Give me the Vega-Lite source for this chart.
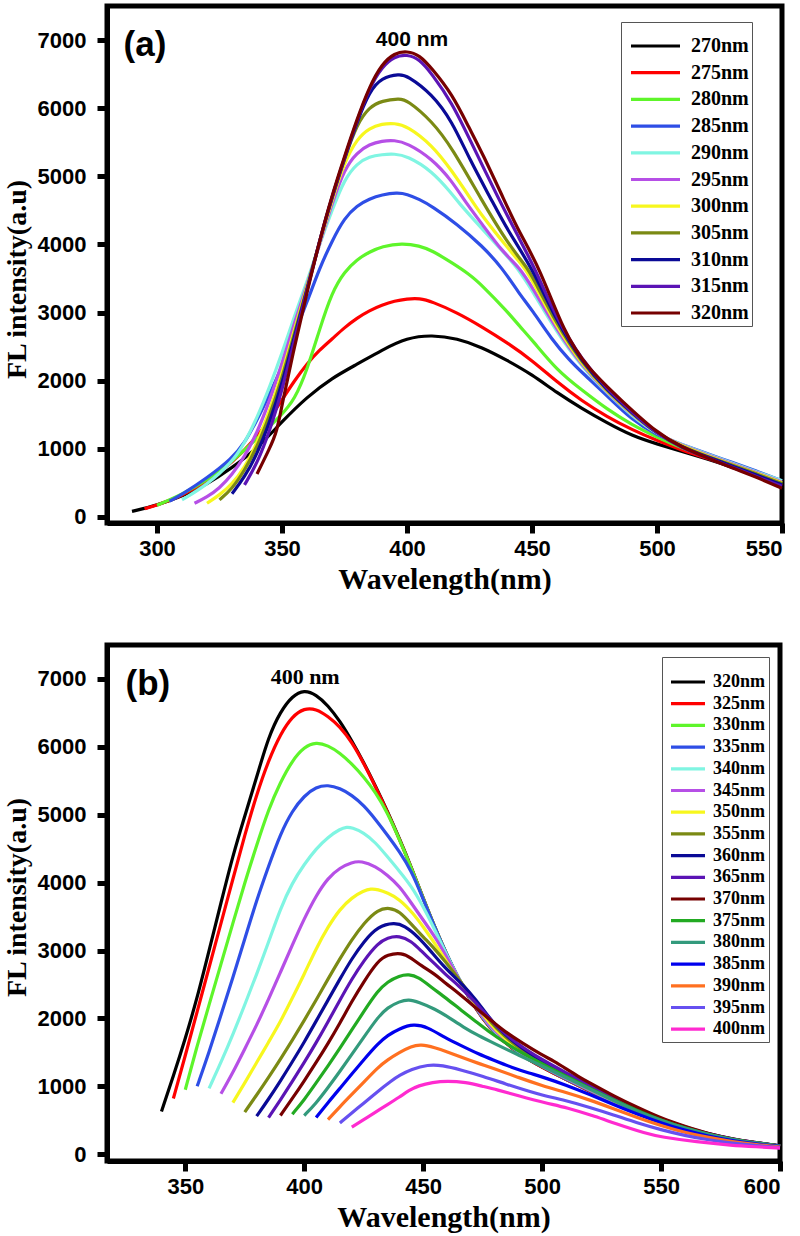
{
"$schema": "https://vega.github.io/schema/vega-lite/v6.json",
"background": "white",
"padding": {"left": 0, "top": 3, "right": 5, "bottom": 0},
"spacing": 45,
"config": {
 "view": {"stroke": "black", "strokeWidth": 5},
 "axis": {"grid": false, "domainColor": "black", "domainWidth": 5, "tickColor": "black", "tickWidth": 5, "tickSize": 10, "labelFont": "Liberation Sans", "labelFontWeight": "bold", "labelFontSize": 22, "labelColor": "black", "titleFont": "Liberation Serif", "titleFontWeight": "bold", "titleColor": "black"},
 "axisX": {"labelPadding": 5, "titlePadding": 5, "titleFontSize": 30},
 "axisY": {"labelPadding": 11, "titlePadding": 6, "titleFontSize": 28, "format": "d"},
 "line": {"strokeWidth": 3.2, "interpolate": "basis"}
},
"resolve": {"scale": {"color": "independent"}, "legend": {"color": "independent"}},
"datasets": {
"a": [
{"s":"270nm","x":290,"y":80},{"s":"270nm","x":300,"y":170},{"s":"270nm","x":310,"y":300},{"s":"270nm","x":320,"y":480},{"s":"270nm","x":330,"y":720},{"s":"270nm","x":340,"y":1000},{"s":"270nm","x":350,"y":1400},{"s":"270nm","x":360,"y":1760},{"s":"270nm","x":370,"y":2040},{"s":"270nm","x":380,"y":2240},{"s":"270nm","x":390,"y":2450},{"s":"270nm","x":400,"y":2630},{"s":"270nm","x":410,"y":2670},{"s":"270nm","x":420,"y":2620},{"s":"270nm","x":430,"y":2490},{"s":"270nm","x":440,"y":2300},{"s":"270nm","x":450,"y":2090},{"s":"270nm","x":460,"y":1820},{"s":"270nm","x":470,"y":1590},{"s":"270nm","x":480,"y":1380},{"s":"270nm","x":490,"y":1190},{"s":"270nm","x":500,"y":1070},{"s":"270nm","x":510,"y":960},{"s":"270nm","x":520,"y":850},{"s":"270nm","x":530,"y":730},{"s":"270nm","x":540,"y":600},{"s":"270nm","x":550,"y":450},
{"s":"275nm","x":295,"y":120},{"s":"275nm","x":300,"y":170},{"s":"275nm","x":310,"y":310},{"s":"275nm","x":320,"y":520},{"s":"275nm","x":330,"y":790},{"s":"275nm","x":340,"y":1170},{"s":"275nm","x":345,"y":1430},{"s":"275nm","x":350,"y":1720},{"s":"275nm","x":355,"y":2000},{"s":"275nm","x":360,"y":2250},{"s":"275nm","x":365,"y":2450},{"s":"275nm","x":370,"y":2610},{"s":"275nm","x":375,"y":2780},{"s":"275nm","x":380,"y":2920},{"s":"275nm","x":385,"y":3030},{"s":"275nm","x":390,"y":3110},{"s":"275nm","x":395,"y":3170},{"s":"275nm","x":400,"y":3200},{"s":"275nm","x":405,"y":3210},{"s":"275nm","x":410,"y":3160},{"s":"275nm","x":420,"y":3000},{"s":"275nm","x":430,"y":2790},{"s":"275nm","x":440,"y":2560},{"s":"275nm","x":450,"y":2300},{"s":"275nm","x":460,"y":1980},{"s":"275nm","x":470,"y":1700},{"s":"275nm","x":480,"y":1470},{"s":"275nm","x":490,"y":1280},{"s":"275nm","x":500,"y":1120},{"s":"275nm","x":510,"y":980},{"s":"275nm","x":520,"y":860},{"s":"275nm","x":530,"y":740},{"s":"275nm","x":540,"y":600},{"s":"275nm","x":550,"y":460},
{"s":"280nm","x":300,"y":170},{"s":"280nm","x":310,"y":330},{"s":"280nm","x":320,"y":540},{"s":"280nm","x":330,"y":810},{"s":"280nm","x":340,"y":1150},{"s":"280nm","x":350,"y":1500},{"s":"280nm","x":355,"y":1720},{"s":"280nm","x":360,"y":2150},{"s":"280nm","x":365,"y":2750},{"s":"280nm","x":370,"y":3300},{"s":"280nm","x":375,"y":3600},{"s":"280nm","x":380,"y":3780},{"s":"280nm","x":385,"y":3890},{"s":"280nm","x":390,"y":3970},{"s":"280nm","x":398,"y":4020},{"s":"280nm","x":405,"y":3980},{"s":"280nm","x":410,"y":3910},{"s":"280nm","x":418,"y":3730},{"s":"280nm","x":425,"y":3560},{"s":"280nm","x":430,"y":3400},{"s":"280nm","x":440,"y":3020},{"s":"280nm","x":445,"y":2800},{"s":"280nm","x":450,"y":2600},{"s":"280nm","x":460,"y":2150},{"s":"280nm","x":470,"y":1860},{"s":"280nm","x":480,"y":1580},{"s":"280nm","x":490,"y":1350},{"s":"280nm","x":500,"y":1170},{"s":"280nm","x":510,"y":1010},{"s":"280nm","x":520,"y":880},{"s":"280nm","x":530,"y":750},{"s":"280nm","x":540,"y":620},{"s":"280nm","x":550,"y":480},
{"s":"285nm","x":305,"y":230},{"s":"285nm","x":310,"y":330},{"s":"285nm","x":320,"y":570},{"s":"285nm","x":330,"y":860},{"s":"285nm","x":335,"y":1080},{"s":"285nm","x":340,"y":1420},{"s":"285nm","x":345,"y":1800},{"s":"285nm","x":350,"y":2200},{"s":"285nm","x":355,"y":2700},{"s":"285nm","x":360,"y":3150},{"s":"285nm","x":365,"y":3650},{"s":"285nm","x":370,"y":4050},{"s":"285nm","x":375,"y":4390},{"s":"285nm","x":380,"y":4570},{"s":"285nm","x":385,"y":4670},{"s":"285nm","x":390,"y":4730},{"s":"285nm","x":396,"y":4760},{"s":"285nm","x":400,"y":4740},{"s":"285nm","x":405,"y":4660},{"s":"285nm","x":410,"y":4560},{"s":"285nm","x":420,"y":4300},{"s":"285nm","x":430,"y":3980},{"s":"285nm","x":438,"y":3660},{"s":"285nm","x":445,"y":3270},{"s":"285nm","x":450,"y":3040},{"s":"285nm","x":458,"y":2600},{"s":"285nm","x":465,"y":2300},{"s":"285nm","x":470,"y":2120},{"s":"285nm","x":480,"y":1780},{"s":"285nm","x":490,"y":1420},{"s":"285nm","x":500,"y":1200},{"s":"285nm","x":510,"y":1060},{"s":"285nm","x":520,"y":930},{"s":"285nm","x":530,"y":800},{"s":"285nm","x":540,"y":670},{"s":"285nm","x":550,"y":530},
{"s":"290nm","x":310,"y":250},{"s":"290nm","x":320,"y":470},{"s":"290nm","x":330,"y":800},{"s":"290nm","x":335,"y":1080},{"s":"290nm","x":340,"y":1450},{"s":"290nm","x":345,"y":1900},{"s":"290nm","x":350,"y":2400},{"s":"290nm","x":355,"y":2950},{"s":"290nm","x":360,"y":3450},{"s":"290nm","x":365,"y":4000},{"s":"290nm","x":370,"y":4500},{"s":"290nm","x":375,"y":4960},{"s":"290nm","x":380,"y":5190},{"s":"290nm","x":385,"y":5290},{"s":"290nm","x":390,"y":5320},{"s":"290nm","x":395,"y":5330},{"s":"290nm","x":400,"y":5300},{"s":"290nm","x":410,"y":5080},{"s":"290nm","x":418,"y":4740},{"s":"290nm","x":420,"y":4640},{"s":"290nm","x":430,"y":4230},{"s":"290nm","x":440,"y":3830},{"s":"290nm","x":444,"y":3660},{"s":"290nm","x":450,"y":3330},{"s":"290nm","x":460,"y":2700},{"s":"290nm","x":470,"y":2200},{"s":"290nm","x":480,"y":1820},{"s":"290nm","x":490,"y":1480},{"s":"290nm","x":500,"y":1210},{"s":"290nm","x":510,"y":1060},{"s":"290nm","x":520,"y":920},{"s":"290nm","x":530,"y":790},{"s":"290nm","x":540,"y":660},{"s":"290nm","x":550,"y":530},
{"s":"295nm","x":315,"y":200},{"s":"295nm","x":320,"y":290},{"s":"295nm","x":325,"y":420},{"s":"295nm","x":330,"y":620},{"s":"295nm","x":335,"y":880},{"s":"295nm","x":340,"y":1230},{"s":"295nm","x":345,"y":1700},{"s":"295nm","x":350,"y":2250},{"s":"295nm","x":355,"y":2850},{"s":"295nm","x":360,"y":3400},{"s":"295nm","x":365,"y":4000},{"s":"295nm","x":370,"y":4600},{"s":"295nm","x":375,"y":5110},{"s":"295nm","x":380,"y":5350},{"s":"295nm","x":385,"y":5470},{"s":"295nm","x":390,"y":5520},{"s":"295nm","x":395,"y":5530},{"s":"295nm","x":400,"y":5490},{"s":"295nm","x":410,"y":5260},{"s":"295nm","x":418,"y":4930},{"s":"295nm","x":423,"y":4640},{"s":"295nm","x":430,"y":4300},{"s":"295nm","x":438,"y":3900},{"s":"295nm","x":445,"y":3660},{"s":"295nm","x":450,"y":3380},{"s":"295nm","x":460,"y":2740},{"s":"295nm","x":470,"y":2220},{"s":"295nm","x":480,"y":1830},{"s":"295nm","x":490,"y":1500},{"s":"295nm","x":500,"y":1220},{"s":"295nm","x":510,"y":1050},{"s":"295nm","x":520,"y":910},{"s":"295nm","x":530,"y":780},{"s":"295nm","x":540,"y":650},{"s":"295nm","x":550,"y":510},
{"s":"300nm","x":320,"y":200},{"s":"300nm","x":325,"y":320},{"s":"300nm","x":330,"y":480},{"s":"300nm","x":335,"y":720},{"s":"300nm","x":340,"y":1080},{"s":"300nm","x":345,"y":1550},{"s":"300nm","x":350,"y":2100},{"s":"300nm","x":355,"y":2750},{"s":"300nm","x":360,"y":3380},{"s":"300nm","x":365,"y":4020},{"s":"300nm","x":370,"y":4650},{"s":"300nm","x":375,"y":5210},{"s":"300nm","x":380,"y":5550},{"s":"300nm","x":385,"y":5710},{"s":"300nm","x":390,"y":5770},{"s":"300nm","x":395,"y":5780},{"s":"300nm","x":400,"y":5740},{"s":"300nm","x":410,"y":5460},{"s":"300nm","x":418,"y":5080},{"s":"300nm","x":426,"y":4640},{"s":"300nm","x":430,"y":4420},{"s":"300nm","x":440,"y":3960},{"s":"300nm","x":447,"y":3660},{"s":"300nm","x":450,"y":3480},{"s":"300nm","x":460,"y":2780},{"s":"300nm","x":470,"y":2240},{"s":"300nm","x":480,"y":1840},{"s":"300nm","x":490,"y":1510},{"s":"300nm","x":500,"y":1220},{"s":"300nm","x":510,"y":1040},{"s":"300nm","x":520,"y":900},{"s":"300nm","x":530,"y":770},{"s":"300nm","x":540,"y":640},{"s":"300nm","x":550,"y":500},
{"s":"305nm","x":325,"y":250},{"s":"305nm","x":330,"y":410},{"s":"305nm","x":335,"y":680},{"s":"305nm","x":340,"y":1020},{"s":"305nm","x":345,"y":1480},{"s":"305nm","x":350,"y":2030},{"s":"305nm","x":355,"y":2700},{"s":"305nm","x":360,"y":3350},{"s":"305nm","x":365,"y":4050},{"s":"305nm","x":370,"y":4680},{"s":"305nm","x":375,"y":5260},{"s":"305nm","x":380,"y":5770},{"s":"305nm","x":385,"y":6020},{"s":"305nm","x":390,"y":6110},{"s":"305nm","x":397,"y":6140},{"s":"305nm","x":400,"y":6120},{"s":"305nm","x":410,"y":5810},{"s":"305nm","x":418,"y":5420},{"s":"305nm","x":430,"y":4640},{"s":"305nm","x":440,"y":4030},{"s":"305nm","x":448,"y":3660},{"s":"305nm","x":450,"y":3540},{"s":"305nm","x":460,"y":2820},{"s":"305nm","x":470,"y":2260},{"s":"305nm","x":480,"y":1850},{"s":"305nm","x":490,"y":1520},{"s":"305nm","x":500,"y":1220},{"s":"305nm","x":510,"y":1030},{"s":"305nm","x":520,"y":890},{"s":"305nm","x":530,"y":760},{"s":"305nm","x":540,"y":630},{"s":"305nm","x":550,"y":490},
{"s":"310nm","x":330,"y":340},{"s":"310nm","x":335,"y":580},{"s":"310nm","x":340,"y":920},{"s":"310nm","x":345,"y":1380},{"s":"310nm","x":350,"y":1950},{"s":"310nm","x":355,"y":2650},{"s":"310nm","x":360,"y":3330},{"s":"310nm","x":365,"y":4050},{"s":"310nm","x":370,"y":4700},{"s":"310nm","x":375,"y":5260},{"s":"310nm","x":380,"y":5800},{"s":"310nm","x":385,"y":6250},{"s":"310nm","x":390,"y":6450},{"s":"310nm","x":397,"y":6500},{"s":"310nm","x":400,"y":6480},{"s":"310nm","x":410,"y":6210},{"s":"310nm","x":418,"y":5810},{"s":"310nm","x":425,"y":5250},{"s":"310nm","x":434,"y":4640},{"s":"310nm","x":440,"y":4220},{"s":"310nm","x":450,"y":3660},{"s":"310nm","x":460,"y":2860},{"s":"310nm","x":470,"y":2280},{"s":"310nm","x":480,"y":1860},{"s":"310nm","x":490,"y":1530},{"s":"310nm","x":500,"y":1220},{"s":"310nm","x":510,"y":1020},{"s":"310nm","x":520,"y":880},{"s":"310nm","x":530,"y":750},{"s":"310nm","x":540,"y":610},{"s":"310nm","x":550,"y":470},
{"s":"315nm","x":335,"y":470},{"s":"315nm","x":340,"y":780},{"s":"315nm","x":345,"y":1250},{"s":"315nm","x":350,"y":1850},{"s":"315nm","x":355,"y":2600},{"s":"315nm","x":360,"y":3320},{"s":"315nm","x":365,"y":4050},{"s":"315nm","x":370,"y":4700},{"s":"315nm","x":375,"y":5270},{"s":"315nm","x":380,"y":5820},{"s":"315nm","x":385,"y":6300},{"s":"315nm","x":390,"y":6610},{"s":"315nm","x":395,"y":6760},{"s":"315nm","x":400,"y":6790},{"s":"315nm","x":405,"y":6720},{"s":"315nm","x":410,"y":6500},{"s":"315nm","x":418,"y":6080},{"s":"315nm","x":425,"y":5550},{"s":"315nm","x":437,"y":4640},{"s":"315nm","x":445,"y":4080},{"s":"315nm","x":451,"y":3660},{"s":"315nm","x":460,"y":2900},{"s":"315nm","x":470,"y":2300},{"s":"315nm","x":480,"y":1880},{"s":"315nm","x":490,"y":1540},{"s":"315nm","x":500,"y":1220},{"s":"315nm","x":510,"y":1010},{"s":"315nm","x":520,"y":870},{"s":"315nm","x":530,"y":730},{"s":"315nm","x":540,"y":590},{"s":"315nm","x":550,"y":450},
{"s":"320nm","x":340,"y":630},{"s":"320nm","x":345,"y":1000},{"s":"320nm","x":348,"y":1250},{"s":"320nm","x":350,"y":1650},{"s":"320nm","x":355,"y":2500},{"s":"320nm","x":360,"y":3300},{"s":"320nm","x":365,"y":4050},{"s":"320nm","x":370,"y":4720},{"s":"320nm","x":375,"y":5290},{"s":"320nm","x":380,"y":5840},{"s":"320nm","x":385,"y":6320},{"s":"320nm","x":390,"y":6650},{"s":"320nm","x":395,"y":6810},{"s":"320nm","x":400,"y":6840},{"s":"320nm","x":405,"y":6780},{"s":"320nm","x":410,"y":6580},{"s":"320nm","x":418,"y":6210},{"s":"320nm","x":425,"y":5700},{"s":"320nm","x":430,"y":5350},{"s":"320nm","x":439,"y":4640},{"s":"320nm","x":445,"y":4170},{"s":"320nm","x":453,"y":3660},{"s":"320nm","x":463,"y":2690},{"s":"320nm","x":472,"y":2190},{"s":"320nm","x":486,"y":1700},{"s":"320nm","x":500,"y":1230},{"s":"320nm","x":510,"y":1020},{"s":"320nm","x":520,"y":870},{"s":"320nm","x":530,"y":720},{"s":"320nm","x":540,"y":580},{"s":"320nm","x":550,"y":420}
],
"b": [
{"s":"320nm","x":340,"y":630},{"s":"320nm","x":345,"y":1150},{"s":"320nm","x":350,"y":1700},{"s":"320nm","x":355,"y":2300},{"s":"320nm","x":360,"y":3000},{"s":"320nm","x":365,"y":3700},{"s":"320nm","x":370,"y":4400},{"s":"320nm","x":375,"y":4980},{"s":"320nm","x":380,"y":5550},{"s":"320nm","x":385,"y":6150},{"s":"320nm","x":390,"y":6520},{"s":"320nm","x":395,"y":6750},{"s":"320nm","x":400,"y":6840},{"s":"320nm","x":405,"y":6770},{"s":"320nm","x":410,"y":6610},{"s":"320nm","x":415,"y":6380},{"s":"320nm","x":420,"y":6090},{"s":"320nm","x":425,"y":5770},{"s":"320nm","x":430,"y":5420},{"s":"320nm","x":435,"y":5050},{"s":"320nm","x":440,"y":4650},{"s":"320nm","x":445,"y":4230},{"s":"320nm","x":450,"y":3770},{"s":"320nm","x":455,"y":3330},{"s":"320nm","x":460,"y":2930},{"s":"320nm","x":465,"y":2570},{"s":"320nm","x":470,"y":2260},{"s":"320nm","x":475,"y":2000},{"s":"320nm","x":480,"y":1780},{"s":"320nm","x":490,"y":1480},{"s":"320nm","x":500,"y":1280},{"s":"320nm","x":510,"y":1100},{"s":"320nm","x":520,"y":930},{"s":"320nm","x":530,"y":760},{"s":"320nm","x":540,"y":600},{"s":"320nm","x":550,"y":470},{"s":"320nm","x":560,"y":360},{"s":"320nm","x":570,"y":270},{"s":"320nm","x":580,"y":200},{"s":"320nm","x":590,"y":150},{"s":"320nm","x":600,"y":110},
{"s":"325nm","x":345,"y":820},{"s":"325nm","x":350,"y":1450},{"s":"325nm","x":355,"y":2100},{"s":"325nm","x":360,"y":2750},{"s":"325nm","x":365,"y":3400},{"s":"325nm","x":370,"y":4050},{"s":"325nm","x":375,"y":4700},{"s":"325nm","x":380,"y":5300},{"s":"325nm","x":385,"y":5800},{"s":"325nm","x":390,"y":6190},{"s":"325nm","x":395,"y":6450},{"s":"325nm","x":400,"y":6570},{"s":"325nm","x":405,"y":6560},{"s":"325nm","x":410,"y":6450},{"s":"325nm","x":415,"y":6300},{"s":"325nm","x":420,"y":6070},{"s":"325nm","x":425,"y":5760},{"s":"325nm","x":430,"y":5410},{"s":"325nm","x":435,"y":5040},{"s":"325nm","x":440,"y":4640},{"s":"325nm","x":445,"y":4220},{"s":"325nm","x":450,"y":3770},{"s":"325nm","x":455,"y":3330},{"s":"325nm","x":460,"y":2930},{"s":"325nm","x":465,"y":2570},{"s":"325nm","x":470,"y":2260},{"s":"325nm","x":475,"y":2000},{"s":"325nm","x":480,"y":1780},{"s":"325nm","x":490,"y":1480},{"s":"325nm","x":500,"y":1280},{"s":"325nm","x":510,"y":1100},{"s":"325nm","x":520,"y":930},{"s":"325nm","x":530,"y":760},{"s":"325nm","x":540,"y":600},{"s":"325nm","x":550,"y":470},{"s":"325nm","x":560,"y":360},{"s":"325nm","x":570,"y":270},{"s":"325nm","x":580,"y":200},{"s":"325nm","x":590,"y":150},{"s":"325nm","x":600,"y":110},
{"s":"330nm","x":350,"y":950},{"s":"330nm","x":355,"y":1600},{"s":"330nm","x":360,"y":2200},{"s":"330nm","x":365,"y":2800},{"s":"330nm","x":370,"y":3400},{"s":"330nm","x":375,"y":4000},{"s":"330nm","x":380,"y":4550},{"s":"330nm","x":385,"y":5080},{"s":"330nm","x":390,"y":5480},{"s":"330nm","x":395,"y":5800},{"s":"330nm","x":400,"y":6000},{"s":"330nm","x":405,"y":6070},{"s":"330nm","x":410,"y":6020},{"s":"330nm","x":415,"y":5910},{"s":"330nm","x":420,"y":5750},{"s":"330nm","x":425,"y":5560},{"s":"330nm","x":430,"y":5330},{"s":"330nm","x":435,"y":5030},{"s":"330nm","x":440,"y":4640},{"s":"330nm","x":445,"y":4220},{"s":"330nm","x":450,"y":3770},{"s":"330nm","x":455,"y":3330},{"s":"330nm","x":460,"y":2930},{"s":"330nm","x":465,"y":2580},{"s":"330nm","x":470,"y":2270},{"s":"330nm","x":475,"y":2010},{"s":"330nm","x":480,"y":1790},{"s":"330nm","x":490,"y":1490},{"s":"330nm","x":500,"y":1290},{"s":"330nm","x":510,"y":1110},{"s":"330nm","x":520,"y":940},{"s":"330nm","x":530,"y":770},{"s":"330nm","x":540,"y":610},{"s":"330nm","x":550,"y":480},{"s":"330nm","x":560,"y":370},{"s":"330nm","x":570,"y":280},{"s":"330nm","x":580,"y":210},{"s":"330nm","x":590,"y":160},{"s":"330nm","x":600,"y":120},
{"s":"335nm","x":355,"y":1000},{"s":"335nm","x":360,"y":1500},{"s":"335nm","x":365,"y":2050},{"s":"335nm","x":370,"y":2600},{"s":"335nm","x":375,"y":3170},{"s":"335nm","x":380,"y":3740},{"s":"335nm","x":385,"y":4240},{"s":"335nm","x":390,"y":4720},{"s":"335nm","x":395,"y":5060},{"s":"335nm","x":400,"y":5280},{"s":"335nm","x":405,"y":5410},{"s":"335nm","x":410,"y":5440},{"s":"335nm","x":415,"y":5390},{"s":"335nm","x":420,"y":5290},{"s":"335nm","x":425,"y":5140},{"s":"335nm","x":430,"y":4930},{"s":"335nm","x":435,"y":4700},{"s":"335nm","x":440,"y":4460},{"s":"335nm","x":445,"y":4180},{"s":"335nm","x":450,"y":3760},{"s":"335nm","x":455,"y":3330},{"s":"335nm","x":460,"y":2930},{"s":"335nm","x":465,"y":2580},{"s":"335nm","x":470,"y":2270},{"s":"335nm","x":475,"y":2010},{"s":"335nm","x":480,"y":1790},{"s":"335nm","x":490,"y":1490},{"s":"335nm","x":500,"y":1290},{"s":"335nm","x":510,"y":1110},{"s":"335nm","x":520,"y":940},{"s":"335nm","x":530,"y":770},{"s":"335nm","x":540,"y":610},{"s":"335nm","x":550,"y":480},{"s":"335nm","x":560,"y":370},{"s":"335nm","x":570,"y":280},{"s":"335nm","x":580,"y":210},{"s":"335nm","x":590,"y":160},{"s":"335nm","x":600,"y":120},
{"s":"340nm","x":360,"y":970},{"s":"340nm","x":365,"y":1350},{"s":"340nm","x":370,"y":1760},{"s":"340nm","x":375,"y":2200},{"s":"340nm","x":380,"y":2650},{"s":"340nm","x":385,"y":3120},{"s":"340nm","x":390,"y":3620},{"s":"340nm","x":395,"y":4000},{"s":"340nm","x":400,"y":4270},{"s":"340nm","x":405,"y":4500},{"s":"340nm","x":410,"y":4670},{"s":"340nm","x":415,"y":4790},{"s":"340nm","x":418,"y":4820},{"s":"340nm","x":420,"y":4810},{"s":"340nm","x":425,"y":4740},{"s":"340nm","x":430,"y":4590},{"s":"340nm","x":435,"y":4380},{"s":"340nm","x":440,"y":4170},{"s":"340nm","x":445,"y":3950},{"s":"340nm","x":450,"y":3650},{"s":"340nm","x":455,"y":3300},{"s":"340nm","x":460,"y":2920},{"s":"340nm","x":465,"y":2580},{"s":"340nm","x":470,"y":2280},{"s":"340nm","x":475,"y":2020},{"s":"340nm","x":480,"y":1800},{"s":"340nm","x":490,"y":1500},{"s":"340nm","x":500,"y":1300},{"s":"340nm","x":510,"y":1120},{"s":"340nm","x":520,"y":950},{"s":"340nm","x":530,"y":780},{"s":"340nm","x":540,"y":620},{"s":"340nm","x":550,"y":490},{"s":"340nm","x":560,"y":375},{"s":"340nm","x":570,"y":285},{"s":"340nm","x":580,"y":215},{"s":"340nm","x":590,"y":165},{"s":"340nm","x":600,"y":120},
{"s":"345nm","x":365,"y":890},{"s":"345nm","x":370,"y":1200},{"s":"345nm","x":375,"y":1550},{"s":"345nm","x":380,"y":1900},{"s":"345nm","x":385,"y":2280},{"s":"345nm","x":390,"y":2680},{"s":"345nm","x":395,"y":3080},{"s":"345nm","x":400,"y":3470},{"s":"345nm","x":405,"y":3810},{"s":"345nm","x":410,"y":4070},{"s":"345nm","x":415,"y":4220},{"s":"345nm","x":420,"y":4300},{"s":"345nm","x":424,"y":4320},{"s":"345nm","x":430,"y":4240},{"s":"345nm","x":435,"y":4110},{"s":"345nm","x":440,"y":3950},{"s":"345nm","x":445,"y":3700},{"s":"345nm","x":450,"y":3450},{"s":"345nm","x":455,"y":3200},{"s":"345nm","x":460,"y":2900},{"s":"345nm","x":465,"y":2580},{"s":"345nm","x":470,"y":2290},{"s":"345nm","x":475,"y":2030},{"s":"345nm","x":480,"y":1810},{"s":"345nm","x":490,"y":1510},{"s":"345nm","x":500,"y":1300},{"s":"345nm","x":510,"y":1120},{"s":"345nm","x":520,"y":950},{"s":"345nm","x":530,"y":780},{"s":"345nm","x":540,"y":620},{"s":"345nm","x":550,"y":490},{"s":"345nm","x":560,"y":375},{"s":"345nm","x":570,"y":285},{"s":"345nm","x":580,"y":215},{"s":"345nm","x":590,"y":165},{"s":"345nm","x":600,"y":120},
{"s":"350nm","x":370,"y":760},{"s":"350nm","x":375,"y":1050},{"s":"350nm","x":380,"y":1350},{"s":"350nm","x":385,"y":1650},{"s":"350nm","x":390,"y":1950},{"s":"350nm","x":395,"y":2300},{"s":"350nm","x":400,"y":2650},{"s":"350nm","x":405,"y":3030},{"s":"350nm","x":410,"y":3350},{"s":"350nm","x":415,"y":3610},{"s":"350nm","x":420,"y":3780},{"s":"350nm","x":425,"y":3880},{"s":"350nm","x":428,"y":3910},{"s":"350nm","x":431,"y":3900},{"s":"350nm","x":435,"y":3850},{"s":"350nm","x":440,"y":3760},{"s":"350nm","x":446,"y":3540},{"s":"350nm","x":450,"y":3350},{"s":"350nm","x":456,"y":3050},{"s":"350nm","x":460,"y":2820},{"s":"350nm","x":466,"y":2510},{"s":"350nm","x":470,"y":2300},{"s":"350nm","x":475,"y":2060},{"s":"350nm","x":480,"y":1840},{"s":"350nm","x":490,"y":1530},{"s":"350nm","x":500,"y":1310},{"s":"350nm","x":510,"y":1130},{"s":"350nm","x":520,"y":960},{"s":"350nm","x":530,"y":790},{"s":"350nm","x":540,"y":630},{"s":"350nm","x":550,"y":495},{"s":"350nm","x":560,"y":380},{"s":"350nm","x":570,"y":290},{"s":"350nm","x":580,"y":215},{"s":"350nm","x":590,"y":165},{"s":"350nm","x":600,"y":120},
{"s":"355nm","x":375,"y":620},{"s":"355nm","x":380,"y":870},{"s":"355nm","x":385,"y":1130},{"s":"355nm","x":390,"y":1400},{"s":"355nm","x":395,"y":1680},{"s":"355nm","x":400,"y":1970},{"s":"355nm","x":405,"y":2270},{"s":"355nm","x":410,"y":2580},{"s":"355nm","x":415,"y":2880},{"s":"355nm","x":420,"y":3160},{"s":"355nm","x":425,"y":3400},{"s":"355nm","x":431,"y":3610},{"s":"355nm","x":436,"y":3630},{"s":"355nm","x":440,"y":3580},{"s":"355nm","x":445,"y":3390},{"s":"355nm","x":450,"y":3200},{"s":"355nm","x":455,"y":3020},{"s":"355nm","x":459,"y":2850},{"s":"355nm","x":465,"y":2580},{"s":"355nm","x":470,"y":2340},{"s":"355nm","x":475,"y":2100},{"s":"355nm","x":480,"y":1870},{"s":"355nm","x":490,"y":1560},{"s":"355nm","x":500,"y":1340},{"s":"355nm","x":510,"y":1150},{"s":"355nm","x":520,"y":980},{"s":"355nm","x":530,"y":800},{"s":"355nm","x":540,"y":640},{"s":"355nm","x":550,"y":500},{"s":"355nm","x":560,"y":385},{"s":"355nm","x":570,"y":290},{"s":"355nm","x":580,"y":215},{"s":"355nm","x":590,"y":165},{"s":"355nm","x":600,"y":120},
{"s":"360nm","x":380,"y":560},{"s":"360nm","x":385,"y":810},{"s":"360nm","x":390,"y":1080},{"s":"360nm","x":395,"y":1360},{"s":"360nm","x":400,"y":1650},{"s":"360nm","x":405,"y":1960},{"s":"360nm","x":410,"y":2270},{"s":"360nm","x":415,"y":2580},{"s":"360nm","x":420,"y":2880},{"s":"360nm","x":425,"y":3130},{"s":"360nm","x":431,"y":3360},{"s":"360nm","x":438,"y":3410},{"s":"360nm","x":442,"y":3370},{"s":"360nm","x":448,"y":3200},{"s":"360nm","x":453,"y":3000},{"s":"360nm","x":459,"y":2750},{"s":"360nm","x":465,"y":2550},{"s":"360nm","x":469,"y":2410},{"s":"360nm","x":475,"y":2150},{"s":"360nm","x":480,"y":1900},{"s":"360nm","x":490,"y":1590},{"s":"360nm","x":500,"y":1370},{"s":"360nm","x":510,"y":1180},{"s":"360nm","x":520,"y":1000},{"s":"360nm","x":530,"y":820},{"s":"360nm","x":540,"y":655},{"s":"360nm","x":550,"y":510},{"s":"360nm","x":560,"y":395},{"s":"360nm","x":570,"y":295},{"s":"360nm","x":580,"y":220},{"s":"360nm","x":590,"y":168},{"s":"360nm","x":600,"y":122},
{"s":"365nm","x":385,"y":540},{"s":"365nm","x":390,"y":800},{"s":"365nm","x":395,"y":1070},{"s":"365nm","x":400,"y":1350},{"s":"365nm","x":405,"y":1640},{"s":"365nm","x":410,"y":1950},{"s":"365nm","x":415,"y":2270},{"s":"365nm","x":420,"y":2580},{"s":"365nm","x":425,"y":2850},{"s":"365nm","x":431,"y":3110},{"s":"365nm","x":435,"y":3190},{"s":"365nm","x":440,"y":3220},{"s":"365nm","x":445,"y":3140},{"s":"365nm","x":449,"y":3000},{"s":"365nm","x":455,"y":2800},{"s":"365nm","x":459,"y":2660},{"s":"365nm","x":465,"y":2480},{"s":"365nm","x":470,"y":2310},{"s":"365nm","x":475,"y":2120},{"s":"365nm","x":480,"y":1910},{"s":"365nm","x":490,"y":1610},{"s":"365nm","x":500,"y":1390},{"s":"365nm","x":510,"y":1200},{"s":"365nm","x":520,"y":1020},{"s":"365nm","x":530,"y":840},{"s":"365nm","x":540,"y":670},{"s":"365nm","x":550,"y":520},{"s":"365nm","x":560,"y":400},{"s":"365nm","x":570,"y":300},{"s":"365nm","x":580,"y":224},{"s":"365nm","x":590,"y":170},{"s":"365nm","x":600,"y":124},
{"s":"370nm","x":390,"y":570},{"s":"370nm","x":395,"y":820},{"s":"370nm","x":400,"y":1080},{"s":"370nm","x":405,"y":1350},{"s":"370nm","x":410,"y":1630},{"s":"370nm","x":415,"y":1930},{"s":"370nm","x":420,"y":2250},{"s":"370nm","x":425,"y":2540},{"s":"370nm","x":431,"y":2850},{"s":"370nm","x":435,"y":2940},{"s":"370nm","x":441,"y":2970},{"s":"370nm","x":445,"y":2890},{"s":"370nm","x":449,"y":2780},{"s":"370nm","x":455,"y":2650},{"s":"370nm","x":459,"y":2530},{"s":"370nm","x":465,"y":2370},{"s":"370nm","x":470,"y":2220},{"s":"370nm","x":475,"y":2070},{"s":"370nm","x":480,"y":1930},{"s":"370nm","x":485,"y":1790},{"s":"370nm","x":492,"y":1630},{"s":"370nm","x":500,"y":1460},{"s":"370nm","x":505,"y":1370},{"s":"370nm","x":510,"y":1260},{"s":"370nm","x":515,"y":1150},{"s":"370nm","x":520,"y":1050},{"s":"370nm","x":530,"y":860},{"s":"370nm","x":540,"y":690},{"s":"370nm","x":550,"y":530},{"s":"370nm","x":560,"y":410},{"s":"370nm","x":570,"y":300},{"s":"370nm","x":580,"y":225},{"s":"370nm","x":590,"y":170},{"s":"370nm","x":600,"y":125},
{"s":"375nm","x":395,"y":590},{"s":"375nm","x":400,"y":800},{"s":"375nm","x":405,"y":1050},{"s":"375nm","x":410,"y":1300},{"s":"375nm","x":415,"y":1560},{"s":"375nm","x":420,"y":1830},{"s":"375nm","x":425,"y":2100},{"s":"375nm","x":431,"y":2410},{"s":"375nm","x":435,"y":2540},{"s":"375nm","x":440,"y":2630},{"s":"375nm","x":444,"y":2650},{"s":"375nm","x":448,"y":2610},{"s":"375nm","x":453,"y":2470},{"s":"375nm","x":460,"y":2290},{"s":"375nm","x":466,"y":2120},{"s":"375nm","x":472,"y":1960},{"s":"375nm","x":477,"y":1820},{"s":"375nm","x":485,"y":1630},{"s":"375nm","x":492,"y":1480},{"s":"375nm","x":500,"y":1330},{"s":"375nm","x":510,"y":1150},{"s":"375nm","x":520,"y":970},{"s":"375nm","x":530,"y":800},{"s":"375nm","x":540,"y":640},{"s":"375nm","x":550,"y":500},{"s":"375nm","x":560,"y":385},{"s":"375nm","x":570,"y":290},{"s":"375nm","x":580,"y":215},{"s":"375nm","x":590,"y":165},{"s":"375nm","x":600,"y":120},
{"s":"380nm","x":400,"y":570},{"s":"380nm","x":405,"y":750},{"s":"380nm","x":410,"y":980},{"s":"380nm","x":415,"y":1220},{"s":"380nm","x":420,"y":1470},{"s":"380nm","x":425,"y":1720},{"s":"380nm","x":431,"y":2020},{"s":"380nm","x":435,"y":2160},{"s":"380nm","x":440,"y":2250},{"s":"380nm","x":444,"y":2280},{"s":"380nm","x":448,"y":2240},{"s":"380nm","x":455,"y":2140},{"s":"380nm","x":461,"y":2010},{"s":"380nm","x":467,"y":1870},{"s":"380nm","x":473,"y":1750},{"s":"380nm","x":480,"y":1630},{"s":"380nm","x":490,"y":1460},{"s":"380nm","x":500,"y":1300},{"s":"380nm","x":510,"y":1130},{"s":"380nm","x":520,"y":960},{"s":"380nm","x":530,"y":790},{"s":"380nm","x":540,"y":630},{"s":"380nm","x":550,"y":495},{"s":"380nm","x":560,"y":380},{"s":"380nm","x":570,"y":290},{"s":"380nm","x":580,"y":215},{"s":"380nm","x":590,"y":165},{"s":"380nm","x":600,"y":120},
{"s":"385nm","x":405,"y":540},{"s":"385nm","x":410,"y":760},{"s":"385nm","x":415,"y":970},{"s":"385nm","x":420,"y":1180},{"s":"385nm","x":425,"y":1390},{"s":"385nm","x":431,"y":1630},{"s":"385nm","x":435,"y":1750},{"s":"385nm","x":440,"y":1850},{"s":"385nm","x":446,"y":1920},{"s":"385nm","x":452,"y":1870},{"s":"385nm","x":459,"y":1720},{"s":"385nm","x":466,"y":1600},{"s":"385nm","x":473,"y":1480},{"s":"385nm","x":480,"y":1380},{"s":"385nm","x":487,"y":1280},{"s":"385nm","x":495,"y":1190},{"s":"385nm","x":500,"y":1140},{"s":"385nm","x":510,"y":1020},{"s":"385nm","x":520,"y":880},{"s":"385nm","x":530,"y":730},{"s":"385nm","x":540,"y":590},{"s":"385nm","x":550,"y":460},{"s":"385nm","x":560,"y":350},{"s":"385nm","x":570,"y":265},{"s":"385nm","x":580,"y":200},{"s":"385nm","x":590,"y":150},{"s":"385nm","x":600,"y":115},
{"s":"390nm","x":410,"y":510},{"s":"390nm","x":415,"y":700},{"s":"390nm","x":420,"y":880},{"s":"390nm","x":425,"y":1060},{"s":"390nm","x":431,"y":1280},{"s":"390nm","x":435,"y":1390},{"s":"390nm","x":440,"y":1500},{"s":"390nm","x":445,"y":1590},{"s":"390nm","x":449,"y":1620},{"s":"390nm","x":455,"y":1570},{"s":"390nm","x":460,"y":1510},{"s":"390nm","x":466,"y":1430},{"s":"390nm","x":473,"y":1340},{"s":"390nm","x":480,"y":1260},{"s":"390nm","x":490,"y":1130},{"s":"390nm","x":500,"y":1010},{"s":"390nm","x":510,"y":910},{"s":"390nm","x":520,"y":800},{"s":"390nm","x":530,"y":670},{"s":"390nm","x":540,"y":540},{"s":"390nm","x":550,"y":420},{"s":"390nm","x":560,"y":320},{"s":"390nm","x":570,"y":245},{"s":"390nm","x":580,"y":185},{"s":"390nm","x":590,"y":140},{"s":"390nm","x":600,"y":105},
{"s":"395nm","x":415,"y":460},{"s":"395nm","x":420,"y":610},{"s":"395nm","x":425,"y":750},{"s":"395nm","x":430,"y":900},{"s":"395nm","x":437,"y":1090},{"s":"395nm","x":440,"y":1160},{"s":"395nm","x":445,"y":1250},{"s":"395nm","x":452,"y":1320},{"s":"395nm","x":458,"y":1310},{"s":"395nm","x":466,"y":1240},{"s":"395nm","x":475,"y":1150},{"s":"395nm","x":485,"y":1030},{"s":"395nm","x":495,"y":920},{"s":"395nm","x":500,"y":870},{"s":"395nm","x":510,"y":790},{"s":"395nm","x":520,"y":690},{"s":"395nm","x":530,"y":580},{"s":"395nm","x":540,"y":460},{"s":"395nm","x":550,"y":360},{"s":"395nm","x":560,"y":275},{"s":"395nm","x":570,"y":210},{"s":"395nm","x":580,"y":160},{"s":"395nm","x":590,"y":125},{"s":"395nm","x":600,"y":95},
{"s":"400nm","x":420,"y":400},{"s":"400nm","x":425,"y":510},{"s":"400nm","x":430,"y":620},{"s":"400nm","x":435,"y":730},{"s":"400nm","x":440,"y":840},{"s":"400nm","x":444,"y":940},{"s":"400nm","x":448,"y":1010},{"s":"400nm","x":454,"y":1060},{"s":"400nm","x":460,"y":1080},{"s":"400nm","x":468,"y":1060},{"s":"400nm","x":475,"y":1000},{"s":"400nm","x":481,"y":950},{"s":"400nm","x":490,"y":860},{"s":"400nm","x":502,"y":750},{"s":"400nm","x":510,"y":690},{"s":"400nm","x":523,"y":550},{"s":"400nm","x":530,"y":460},{"s":"400nm","x":544,"y":300},{"s":"400nm","x":550,"y":255},{"s":"400nm","x":565,"y":180},{"s":"400nm","x":580,"y":130},{"s":"400nm","x":590,"y":110},{"s":"400nm","x":600,"y":90}
]
},
"vconcat": [
{
 "width": 675, "height": 517,
 "encoding": {
  "x": {"field": "x", "type": "quantitative", "scale": {"domain": [280, 550], "nice": false, "zero": false}, "axis": {"values": [300, 350, 400, 450, 500, 550], "title": "Wavelength(nm)"}},
  "y": {"field": "y", "type": "quantitative", "scale": {"domain": [-90, 7500], "nice": false, "zero": false}, "axis": {"values": [0, 1000, 2000, 3000, 4000, 5000, 6000, 7000], "title": "FL intensity(a.u)", "titleY": 273}}
 },
 "layer": [
  {"data": {"name": "a"}, "mark": {"type": "line"},
   "encoding": {"color": {"field": "s", "type": "nominal",
     "scale": {"domain": ["270nm","275nm","280nm","285nm","290nm","295nm","300nm","305nm","310nm","315nm","320nm"],
               "range": ["#000000","#ff0000","#5ef52a","#2e4ee6","#80f5e2","#b64fe6","#f7f71e","#7b8a14","#0a0a96","#5b14b5","#760000"]},
     "legend": {"orient": "none", "legendX": 514, "legendY": 16, "title": " ", "titleFontSize": 8, "titlePadding": 3, "padding": 3, "clipHeight": 20, "rowPadding": 6.7, "symbolType": "stroke", "symbolSize": 2401, "symbolStrokeWidth": 4, "symbolOffset": 5, "labelOffset": 9, "labelFont": "Liberation Serif", "labelFontWeight": "bold", "labelFontSize": 20, "labelColor": "black", "strokeColor": "#555555", "fillColor": "white"}}}},
  {"data": {"values": [{"x": 295.2, "y": 6770, "t": "(a)"}]}, "mark": {"type": "text", "font": "Liberation Sans", "fontWeight": "bold", "fontSize": 35, "align": "center", "baseline": "alphabetic", "color": "black"}, "encoding": {"text": {"field": "t"}}},
  {"data": {"values": [{"x": 402, "y": 6916, "t": "400 nm"}]}, "mark": {"type": "text", "font": "Liberation Sans", "fontWeight": "bold", "fontSize": 21, "align": "center", "baseline": "alphabetic", "color": "black"}, "encoding": {"text": {"field": "t"}}}
 ]
},
{
 "width": 673, "height": 516,
 "encoding": {
  "x": {"field": "x", "type": "quantitative", "scale": {"domain": [317.1, 600], "nice": false, "zero": false}, "axis": {"values": [350, 400, 450, 500, 550, 600], "title": "Wavelength(nm)"}},
  "y": {"field": "y", "type": "quantitative", "scale": {"domain": [-100, 7500], "nice": false, "zero": false}, "axis": {"values": [0, 1000, 2000, 3000, 4000, 5000, 6000, 7000], "title": "FL intensity(a.u)", "titleY": 252}}
 },
 "layer": [
  {"data": {"name": "b"}, "mark": {"type": "line"},
   "encoding": {"color": {"field": "s", "type": "nominal",
     "scale": {"domain": ["320nm","325nm","330nm","335nm","340nm","345nm","350nm","355nm","360nm","365nm","370nm","375nm","380nm","385nm","390nm","395nm","400nm"],
               "range": ["#000000","#ff0000","#5ef52a","#2e4ee6","#80f5e2","#b64fe6","#f7f71e","#7b8a14","#0a0a96","#5b14b5","#760000","#22aa22","#339a7c","#0000ee","#ff7020","#6650f0","#ff2ad0"]},
     "legend": {"orient": "none", "legendX": 555, "legendY": 12, "title": " ", "titleFontSize": 10, "titlePadding": 3, "padding": 3, "clipHeight": 18, "rowPadding": 3.7, "symbolType": "stroke", "symbolSize": 1156, "symbolStrokeWidth": 4, "symbolOffset": 4, "labelOffset": 6, "labelFont": "Liberation Serif", "labelFontWeight": "bold", "labelFontSize": 18, "labelColor": "black", "strokeColor": "#555555", "fillColor": "white"}}}},
  {"data": {"values": [{"x": 334.3, "y": 6765, "t": "(b)"}]}, "mark": {"type": "text", "font": "Liberation Sans", "fontWeight": "bold", "fontSize": 35, "align": "center", "baseline": "alphabetic", "color": "black"}, "encoding": {"text": {"field": "t"}}},
  {"data": {"values": [{"x": 400.4, "y": 6926, "t": "400 nm"}]}, "mark": {"type": "text", "font": "Liberation Serif", "fontWeight": "bold", "fontSize": 22, "align": "center", "baseline": "alphabetic", "color": "black"}, "encoding": {"text": {"field": "t"}}}
 ]
}
]
}
